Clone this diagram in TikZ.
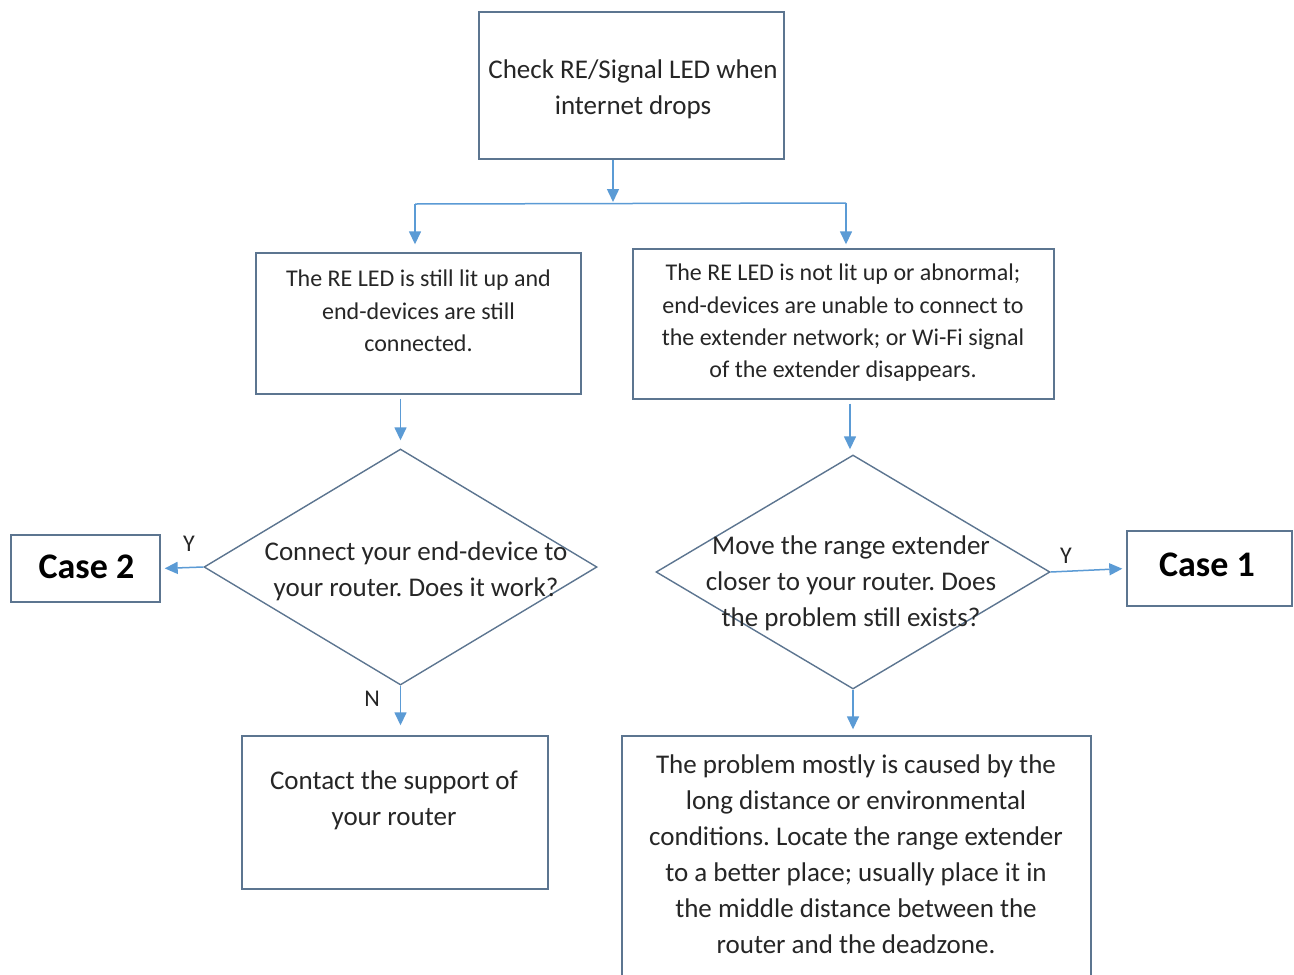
\documentclass[tikz,border=0pt]{standalone}
\usepackage{fontspec}
\setmainfont{Carlito}
\usetikzlibrary{shapes.geometric,arrows.meta}
\definecolor{boxc}{HTML}{5C7590}
\definecolor{linec}{HTML}{5B9BD5}
\definecolor{txtc}{HTML}{262626}
\frenchspacing
\begin{document}
\begin{tikzpicture}[x=1pt,y=-1pt,
  box/.style={draw=boxc,line width=1.4pt,rectangle,inner sep=0pt,fill=white},
  dia/.style={draw=boxc,line width=1.4pt,diamond,aspect=1,inner sep=0pt},
  tbig/.style={text=txtc,align=center,inner sep=0pt,font=\fontsize{27}{36}\selectfont},
  tmid/.style={text=txtc,align=center,inner sep=0pt,font=\fontsize{24}{32.3}\selectfont},
  tcase/.style={text=black,inner sep=0pt,font=\fontsize{36}{40}\selectfont\bfseries},
  tlab/.style={text=txtc,inner sep=0pt,font=\fontsize{24}{28}\selectfont},
  conn/.style={draw=linec,line width=1.5pt},
  arr/.style={conn,-{Triangle[length=13pt,width=12pt]}}
]
\useasboundingbox (0,0) rectangle (1294,975);
\fill[white] (0,0) rectangle (1294,975);

% boxes
\node[box,minimum width=305,minimum height=147] (top) at (631.5,85.5) {};
\node[tbig] (topt) at (633,89) {Check RE/Signal LED when\\internet drops};

\node[box,minimum width=325,minimum height=141] (l1) at (418.5,323.5) {};
\node[tmid] (l1t) at (418.5,311) {The RE LED is still lit up and\\end-devices are still\\connected.};

\node[box,minimum width=421,minimum height=150] (r1) at (843.5,324) {};
\node[tmid] (r1t) at (843,323) {The RE LED is not lit up or abnormal;\\end-devices are unable to connect to\\the extender network; or Wi-Fi signal\\of the extender disappears.};

\node[dia,minimum width=393,minimum height=236] (d1) at (400.5,567) {};
\node[tbig] (d1t) at (416,571.5) {Connect your end-device to\\your router. Does it work?};

\node[dia,minimum width=394,minimum height=234] (d2) at (853,572) {};
\node[tbig] (d2t) at (851,583) {Move the range extender\\closer to your router. Does\\the problem still exists?};

\node[box,minimum width=149,minimum height=67] (c2) at (85.5,568.5) {};
\node[tcase] (c2t) at (86.5,567) {Case 2};

\node[box,minimum width=165,minimum height=75] (c1) at (1209.5,568.5) {};
\node[tcase] (c1t) at (1207,565) {Case 1};

\node[box,minimum width=306,minimum height=153] (l2) at (395,812.5) {};
\node[tbig] (l2t) at (394,800) {Contact the support of\\your router};

\node[box,minimum width=469,minimum height=250] (r2) at (856.5,861) {};
\node[tbig] (r2t) at (856,854) {The problem mostly is caused by the\\long distance or environmental\\conditions. Locate the range extender\\to a better place; usually place it in\\the middle distance between the\\router and the deadzone.};

% labels
\node[tlab] (ly2) at (189,544) {Y};
\node[tlab] (ly1) at (1066,556) {Y};
\node[tlab] (ln) at (372,699) {N};

% connectors
\coordinate (j) at (613,203);
\coordinate (jl) at (415,204);
\coordinate (jr) at (846,203);
\draw[arr,shorten >=1pt] (top.south -| j) -- (j);
\draw[conn] (jl) -- (jr);
\draw[arr,shorten >=8pt] (jl) -- (jl |- l1.north);
\draw[arr,shorten >=4pt] (jr) -- (jr |- r1.north);
\draw[arr,shorten <=4pt,shorten >=8pt] (l1.south -| d1.north) -- (d1.north);
\draw[arr,shorten <=4pt,shorten >=5pt] (r1.south -| 850,0) -- (850,0 |- d2.north);
\draw[arr,shorten >=4pt] (d1.west) -- (c2.east);
\draw[arr,shorten >=4pt] (d2.east) -- (c1.west);
\draw[arr,shorten >=10pt] (d1.south) -- (d1.south |- l2.north);
\draw[arr,shorten >=6pt] (d2.south) -- (d2.south |- r2.north);
\end{tikzpicture}
\end{document}
